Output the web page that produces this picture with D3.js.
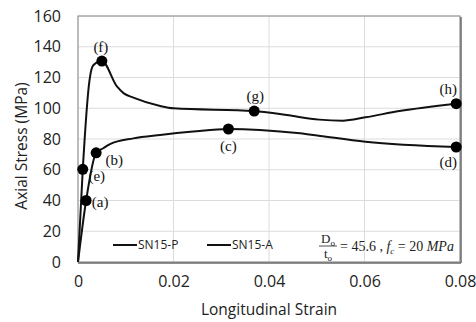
<!DOCTYPE html>
<html>
<head>
<meta charset="utf-8">
<script src="https://cdn.jsdelivr.net/npm/d3@7"></script>
<style>
  body { margin: 0; background: #fff; }
  svg { display: block; }
</style>
</head>
<body>
<div id="chart"></div>
<script>
// chart data
const strainP = [0, 0.0017, 0.0038, 0.0053, 0.0067, 0.0116, 0.0172, 0.0241, 0.0315, 0.0381, 0.0465, 0.0507, 0.0602, 0.0792];
const stressP = [0, 40, 71, 74, 76.7, 80.4, 82.6, 84.8, 86.5, 85.9, 83.7, 82, 78.2, 74.8];

const strainA = [0, 0.001, 0.0024, 0.0032, 0.005, 0.0082, 0.0096, 0.0116, 0.0172, 0.02, 0.0369, 0.0437, 0.0505, 0.0554, 0.0602, 0.0673, 0.0792];
const stressA = [0, 60.3, 118, 128, 130.7, 114, 109.7, 106.9, 101.5, 100, 98.2, 95.6, 92.6, 91.9, 94.1, 98.2, 103];

// marked stages (a)-(h)
const markNames = ["(a)", "(b)", "(c)", "(d)", "(e)", "(f)", "(g)", "(h)"];
const markStrain = [0.0017, 0.0038, 0.0315, 0.0792, 0.001, 0.005, 0.0369, 0.0792];
const markStress = [40, 71, 86.5, 74.8, 60.3, 130.7, 98.2, 103];

const seriesNames = ["SN15-P", "SN15-A"];
const xTicks = [0, 0.02, 0.04, 0.06, 0.08];
const yTicks = [0, 20, 40, 60, 80, 100, 120, 140, 160];

// layout
const W = 476, H = 322;
const margin = { top: 16, right: 16, bottom: 60, left: 78 };
const width = 460 - margin.left;
const height = 262 - margin.top;

const svg = d3.select("#chart").append("svg")
    .attr("width", W)
    .attr("height", H);

const g = svg.append("g")
    .attr("transform", `translate(${margin.left},${margin.top})`);

const x = d3.scaleLinear().domain([0, 0.08]).range([0, width]);
const y = d3.scaleLinear().domain([0, 160]).range([height, 0]);

const sansFont = "'Open Sans', 'Noto Sans', sans-serif";
const serifFont = "'Liberation Serif', 'DejaVu Serif', serif";

// grid
g.selectAll(".hgrid").data(yTicks).enter().append("line")
    .attr("x1", 0).attr("x2", width)
    .attr("y1", d => y(d)).attr("y2", d => y(d))
    .style("stroke", "#dcdcdc").style("stroke-width", 1);
g.selectAll(".vgrid").data(xTicks).enter().append("line")
    .attr("y1", 0).attr("y2", height)
    .attr("x1", d => x(d)).attr("x2", d => x(d))
    .style("stroke", "#dcdcdc").style("stroke-width", 1);

// frame
g.append("rect")
    .attr("x", 0).attr("y", 0).attr("width", width).attr("height", height)
    .style("fill", "none").style("stroke", "#8a8a8a").style("stroke-width", 1);
g.append("line").attr("x1", width + 1).attr("x2", width + 1).attr("y1", 1).attr("y2", height + 1)
    .style("stroke", "#6a6a6a").style("stroke-width", 1.5);
g.append("line").attr("x1", 0).attr("x2", width + 1).attr("y1", height + 1).attr("y2", height + 1)
    .style("stroke", "#6a6a6a").style("stroke-width", 1.5);

// axes (labels only)
const xAxis = g.append("g")
    .attr("transform", `translate(0,${height})`)
    .call(d3.axisBottom(x).tickValues(xTicks).tickSize(0).tickPadding(14)
        .tickFormat(d => d === 0 ? "0" : d3.format(".2f")(d)));
const yAxis = g.append("g")
    .call(d3.axisLeft(y).tickValues(yTicks).tickSize(0).tickPadding(17));
[xAxis, yAxis].forEach(a => {
    a.select(".domain").remove();
    a.selectAll("text")
        .style("font-family", sansFont)
        .style("font-size", "16px")
        .style("fill", "#222");
});

// axis titles
svg.append("text")
    .attr("x", margin.left + width / 2)
    .attr("y", 315)
    .attr("text-anchor", "middle")
    .style("font-family", sansFont)
    .style("font-size", "15.5px")
    .style("fill", "#222")
    .text("Longitudinal Strain");
svg.append("text")
    .attr("transform", "translate(27,146) rotate(-90)")
    .attr("text-anchor", "middle")
    .style("font-family", sansFont)
    .style("font-size", "15.5px")
    .style("fill", "#222")
    .text("Axial Stress (MPa)");

// curves
const line = d3.line()
    .x(d => x(d[0]))
    .y(d => y(d[1]))
    .curve(d3.curveMonotoneX);

const seriesData = [
    d3.zip(strainP, stressP),
    d3.zip(strainA, stressA)
];
g.selectAll(".curve").data(seriesData).enter().append("path")
    .attr("d", line)
    .style("fill", "none")
    .style("stroke", "#111")
    .style("stroke-width", 2);

// markers
const marks = markNames.map((n, i) => ({ name: n, sx: markStrain[i], sy: markStress[i] }));
g.selectAll(".mark").data(marks).enter().append("circle")
    .attr("cx", d => x(d.sx))
    .attr("cy", d => y(d.sy))
    .attr("r", 5.5)
    .style("fill", "#000");

// label offsets (dx, dy) relative to each marker
const labelOffset = {
    "(a)": [14, 1], "(b)": [18, 7], "(c)": [0, 17], "(d)": [-8, 15],
    "(e)": [14, 6], "(f)": [-1, -14], "(g)": [1, -15], "(h)": [-8, -15]
};
g.selectAll(".mlabel").data(marks).enter().append("text")
    .attr("x", d => x(d.sx) + labelOffset[d.name][0])
    .attr("y", d => y(d.sy) + labelOffset[d.name][1])
    .attr("text-anchor", "middle")
    .attr("dy", "0.35em")
    .style("font-family", serifFont)
    .style("font-size", "15px")
    .style("fill", "#111")
    .text(d => d.name);

// legend
const legend = svg.append("g").attr("transform", "translate(113,245)");
seriesNames.forEach((s, i) => {
    const lg = legend.append("g").attr("transform", `translate(${i * 94},0)`);
    lg.append("line").attr("x1", 0).attr("x2", 24).attr("y1", 0).attr("y2", 0)
        .style("stroke", "#111").style("stroke-width", 2);
    lg.append("text").attr("x", 25).attr("y", 0).attr("dy", "0.35em")
        .style("font-family", sansFont).style("font-size", "12px").style("fill", "#222")
        .text(s);
});

// parameter note
const note = svg.append("g").attr("transform", "translate(319,246)")
    .style("font-family", serifFont).style("fill", "#222");
const num = note.append("text").attr("x", 9).attr("y", -3).attr("text-anchor", "middle").style("font-size", "13px");
num.append("tspan").text("D");
num.append("tspan").attr("dy", 3).style("font-size", "9px").text("o");
note.append("line").attr("x1", 0).attr("x2", 18).attr("y1", 0).attr("y2", 0)
    .style("stroke", "#222").style("stroke-width", 0.8);
const den = note.append("text").attr("x", 9).attr("y", 12).attr("text-anchor", "middle").style("font-size", "13px");
den.append("tspan").text("t");
den.append("tspan").attr("dy", 3).style("font-size", "9px").text("o");
const eq = note.append("text").attr("x", 21).attr("y", 5).style("font-size", "14px");
eq.append("tspan").text("= 45.6 , ");
eq.append("tspan").style("font-style", "italic").text("f");
eq.append("tspan").attr("dy", 3).style("font-size", "9px").style("font-style", "italic").text("c");
eq.append("tspan").attr("dy", -3).text(" = 20 ");
eq.append("tspan").style("font-style", "italic").text("MPa");
</script>
</body>
</html>
